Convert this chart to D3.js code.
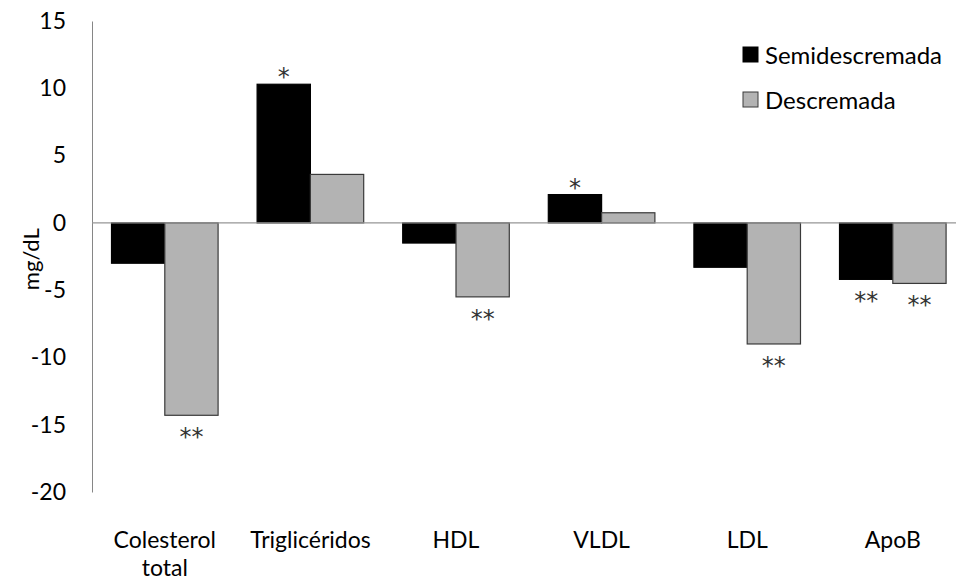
<!DOCTYPE html>
<html>
<head>
<meta charset="utf-8">
<script src="https://cdn.jsdelivr.net/npm/d3@7"></script>
<style>
  html, body { margin: 0; padding: 0; background: #fff; }
  svg { display: block; font-family: Lato, "Open Sans", sans-serif; }
</style>
</head>
<body>
<svg id="chart" width="956" height="581"></svg>
<script>
// Change in lipid profile (mg/dL) by milk type
const categories = ["Colesterol total", "Triglicéridos", "HDL", "VLDL", "LDL", "ApoB"];
const seriesNames = ["Semidescremada", "Descremada"];
const semidescremada = [-3.0, 10.3, -1.5, 2.1, -3.3, -4.2];
const descremada = [-14.3, 3.6, -5.5, 0.75, -9.0, -4.5];
// significance marks per category
const marksSemi = ["", "*", "", "*", "", "**"];
const marksDesc = ["**", "", "**", "", "**", "**"];
const yTicks = [15, 10, 5, 0, -5, -10, -15, -20];

const colors = ["#000000", "#b3b3b3"];
const strokes = ["#000000", "#3a3a3a"];

const svg = d3.select("#chart");
const plot = { left: 92, top: 21, bottom: 492 };
const step = 145.6;

const x = d3.scaleBand()
  .domain(categories)
  .range([plot.left, plot.left + step * categories.length])
  .paddingInner(0.268)
  .paddingOuter(0.134);

const xs = d3.scaleBand().domain(seriesNames).range([0, x.bandwidth()]);

const y = d3.scaleLinear().domain([-20, 15]).range([plot.bottom, plot.top]);

const fontSize = 23;

// y axis: line and labels, no tick marks
const yAxis = d3.axisLeft(y).tickValues(yTicks).tickSize(0).tickPadding(26)
  .tickFormat(d => String(d));
const gy = svg.append("g").attr("transform", `translate(${plot.left},0)`).call(yAxis);
gy.select(".domain").attr("stroke", "#868686").attr("stroke-width", 1);
gy.selectAll("text").attr("font-size", fontSize).attr("fill", "#000")
  .attr("font-family", "Lato, 'Open Sans', sans-serif");

svg.append("text")
  .attr("transform", `translate(30,${y(-2.7)}) rotate(-90)`)
  .attr("text-anchor", "middle")
  .attr("dominant-baseline", "central")
  .attr("font-size", fontSize - 1)
  .text("mg/dL");

// bars
const rows = categories.map((c, i) => ({ cat: c, values: [semidescremada[i], descremada[i]], marks: [marksSemi[i], marksDesc[i]] }));

const groups = svg.append("g").selectAll("g").data(rows).join("g")
  .attr("transform", d => `translate(${x(d.cat)},0)`);

groups.selectAll("rect")
  .data(d => d.values.map((v, k) => ({ v, k, name: seriesNames[k] })))
  .join("rect")
  .attr("x", d => xs(d.name))
  .attr("width", xs.bandwidth())
  .attr("y", d => y(Math.max(0, d.v)))
  .attr("height", d => Math.abs(y(d.v) - y(0)))
  .attr("fill", d => colors[d.k])
  .attr("stroke", d => strokes[d.k])
  .attr("stroke-width", 1.2);

// zero line
svg.append("line")
  .attr("x1", plot.left).attr("x2", 956)
  .attr("y1", y(0)).attr("y2", y(0))
  .attr("stroke", "#969696").attr("stroke-width", 1.3);

// significance asterisks
groups.selectAll("text.mark")
  .data(d => d.values.map((v, k) => ({ v, k, name: seriesNames[k], m: d.marks[k] })).filter(e => e.m))
  .join("text")
  .attr("class", "mark")
  .attr("x", d => xs(d.name) + xs.bandwidth() / 2)
  .attr("y", d => d.v >= 0 ? y(d.v) - 13 + 14 : y(d.v) + 16 + 14)
  .attr("text-anchor", "middle")
  .attr("font-family", "'DejaVu Sans', sans-serif")
  .attr("font-size", 24)
  .attr("fill", "#333")
  .text(d => d.m);

// category labels (wrapped like the original)
const catLines = { "Colesterol total": ["Colesterol", "total"] };
svg.append("g").selectAll("text").data(categories).join("text")
  .attr("x", d => x(d) + x.bandwidth() / 2)
  .attr("y", 548)
  .attr("text-anchor", "middle")
  .attr("font-size", 23)
  .each(function (d) {
    const lines = catLines[d] || [d];
    d3.select(this).selectAll("tspan").data(lines).join("tspan")
      .attr("x", x(d) + x.bandwidth() / 2)
      .attr("dy", (l, i) => i === 0 ? 0 : 28)
      .text(l => l);
  });

// legend
const legend = svg.append("g").attr("transform", "translate(743,47)");
seriesNames.forEach((name, k) => {
  const g = legend.append("g").attr("transform", `translate(0,${k * 45})`);
  g.append("rect").attr("width", 15).attr("height", 15)
    .attr("fill", colors[k]).attr("stroke", strokes[k]).attr("stroke-width", 1);
  g.append("text").attr("x", 22).attr("y", 7.5)
    .attr("dominant-baseline", "central")
    .attr("font-size", 24)
    .text(name);
});
</script>
</body>
</html>
